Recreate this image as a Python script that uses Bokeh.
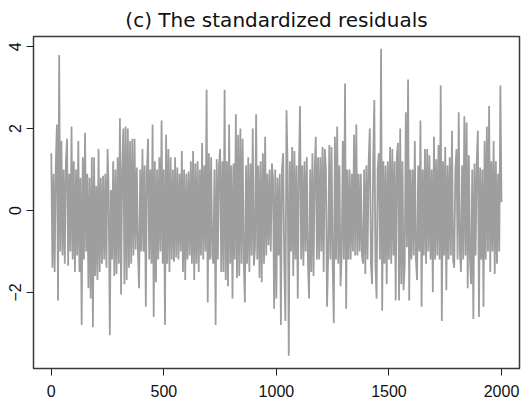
from bokeh.plotting import figure
from bokeh.models import Range1d, FixedTicker
from bokeh.embed import file_html
from bokeh.resources import INLINE

title_text = "(c) The standardized residuals"
x_ticks = [0, 500, 1000, 1500, 2000]
y_ticks = [-2, 0, 2, 4]

resid = [
    1.4, -1.4, 0.9, -1.5, 1.1, 2.1, -2.2, 3.8, -1.0, 1.7, -1.1, 1.0, -1.3, 1.2, 1.75, -1.35, 0.9, -1.0, 2.05, -1.2,
    1.2, -1.5, 1.0, -1.1, 1.7, -1.5, 0.8, -2.8, 1.3, -1.2, 1.9, -1.0, 0.9, -1.9, 0.8, -2.15, 1.3, -2.85, 1.3, -1.6,
    0.6, -1.7, 1.5, -1.5, 0.8, -1.3, 0.85, -1.2, 0.9, -1.4, 1.5, 0.4, -3.05, 0.5, -1.2, 1.2, -1.6, 1.0, -1.55, 1.3,
    -1.3, 2.25, -2.05, 1.0, 2.0, -1.8, 2.05, -1.7, 2.0, -1.4, 1.7, -1.3, 1.75, -1.1, 1.75, -0.95, 1.05, -1.0, -1.9, 1.0,
    -1.0, 1.5, -1.0, 1.1, -2.35, 1.0, 1.75, -1.2, 1.0, -1.3, 2.1, -2.6, 1.2, -1.75, 1.0, -1.2, 1.3, -1.0, 2.2, -1.3,
    1.0, -2.8, 1.85, -1.3, 1.5, -1.5, 1.3, -1.2, 1.0, -1.25, 1.3, -1.15, 1.05, -1.2, 0.9, -1.0, 1.45, -1.5, 1.0, -1.7,
    0.9, -1.2, 0.95, -1.1, 1.2, -1.3, 1.45, -1.7, 1.15, -1.3, 1.2, -1.5, 1.0, -1.1, 1.65, -1.2, 1.1, -1.0, 2.95, -2.25,
    1.4, -1.2, 1.3, -1.1, -1.3, 1.0, -2.8, 1.25, -1.2, 1.1, 1.5, -1.5, 1.2, -1.5, 2.95, -1.7, 1.2, -1.85, 2.1, -1.3,
    1.1, -2.15, 1.15, -1.2, 2.35, -1.65, 1.85, -1.6, 2.0, -1.3, 1.75, -1.2, -2.25, 1.1, -1.3, 1.3, -1.5, 1.15, -1.1, 2.0,
    -1.35, -0.9, 2.35, -1.2, 1.1, -1.65, 1.2, -1.75, 1.4, -1.3, 1.8, -1.1, 0.9, -0.85, 1.0, -1.0, 1.15, 0.8, -2.4, 1.0,
    -2.15, 0.8, -1.1, 0.9, -2.8, 1.0, 1.4, -1.3, -2.7, 2.45, 1.0, -3.55, 1.2, -1.0, 1.55, -1.6, 1.45, -1.2, 1.1, -2.15,
    1.0, 2.55, -1.2, 1.1, -1.35, 1.2, -1.0, 1.3, -1.2, -2.15, 1.0, -1.5, 1.4, -1.6, 0.95, 1.8, -1.2, 1.3, -1.2, 1.3,
    -1.0, 1.55, -1.5, 1.5, 1.0, -2.35, -1.1, 1.6, -1.2, 1.55, -1.3, -2.75, 1.8, -1.2, 2.05, -1.3, 1.1, -1.85, -1.1, 1.7,
    -1.2, 3.1, -2.4, 1.0, -1.2, 1.0, -1.2, 0.9, -1.0, 1.85, -1.1, 2.1, -1.1, 0.9, -1.0, 0.9, -1.1, -1.3, 1.0, -1.55,
    1.1, -1.2, 1.2, 2.0, -1.3, -1.8, 1.2, 2.7, -1.3, -2.15, 1.0, 1.4, -1.2, 3.95, -2.45, 1.2, -1.3, 1.1, -1.8, 1.2,
    -1.2, 1.55, -1.3, 1.5, -1.1, 1.2, -2.2, 1.3, 1.65, -2.2, 2.0, -1.8, 1.2, -1.95, -1.3, 2.4, -0.9, 3.2, -2.2, 1.0,
    -1.2, 1.0, -1.1, 1.7, -1.2, -1.7, 1.1, -1.0, 2.2, -2.35, 1.0, -1.1, 1.5, -1.3, 1.5, -1.0, 1.35, -1.2, 1.0, -2.0,
    1.8, -1.2, 1.25, -1.1, 1.6, -1.2, 3.05, -2.7, 1.2, -1.1, 1.55, -1.95, 1.1, -1.2, 1.3, -1.1, 1.95, -1.2, -1.4, 1.0,
    1.5, -1.2, 2.4, -1.0, -1.5, 1.1, -1.2, 2.3, -1.1, 2.15, -1.9, 1.35, -1.2, -1.8, 1.0, -2.65, 1.15, -1.1, 1.2, 1.95,
    -2.6, 1.05, -1.2, 1.0, -2.35, 1.7, -1.2, 2.05, -1.0, 2.55, -1.5, 1.2, -1.0, 1.7, -1.55, 1.2, -1.3, 0.9, -1.0, 3.05, 0.2,
]
step = 5
t = [i * step for i in range(len(resid))]

p = figure(width=530, height=399, output_backend="svg", toolbar_location=None,
           x_range=Range1d(-79, 2080), y_range=Range1d(-3.86, 4.25),
           min_border_left=33, min_border_right=11, min_border_top=33, min_border_bottom=31,
           title=title_text)
p.line(t, resid, line_color="#9e9e9e", line_width=1.8)

p.grid.visible = False
p.background_fill_color = "white"
p.border_fill_color = "white"
p.outline_line_color = "#3a3a3a"
p.outline_line_width = 1.5

p.title.align = "center"
p.title.text_font = "DejaVu Sans"
p.title.text_font_size = "20px"
p.title.text_font_style = "normal"
p.title.text_color = "#111111"

p.xaxis.ticker = FixedTicker(ticks=x_ticks)
p.yaxis.ticker = FixedTicker(ticks=y_ticks)
for ax in (p.xaxis[0], p.yaxis[0]):
    ax.axis_line_color = None
    ax.major_tick_out = 7
    ax.major_tick_in = 0
    ax.minor_tick_out = 0
    ax.minor_tick_in = 0
    ax.major_tick_line_color = "#222222"
    ax.major_label_text_font = "Liberation Sans"
    ax.major_label_text_font_size = "16px"
    ax.major_label_text_color = "#111111"
p.xaxis.major_label_standoff = 9
p.yaxis.major_label_standoff = 5
p.yaxis.major_label_orientation = "vertical"

open("out.html", "w").write(file_html(p, INLINE))
